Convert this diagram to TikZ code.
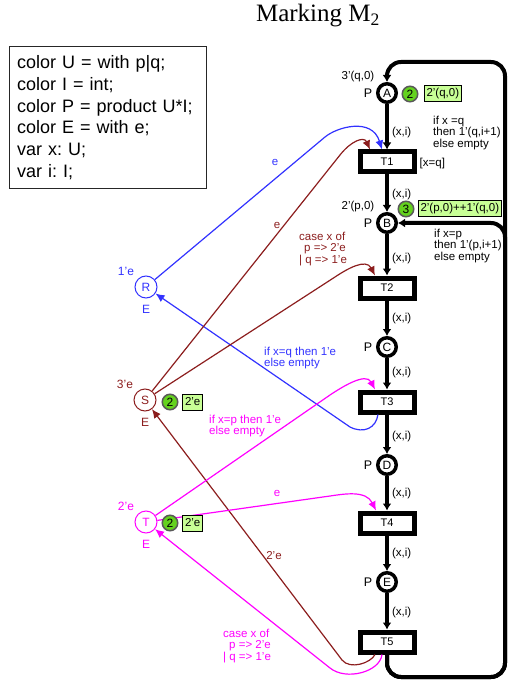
\documentclass[tikz,border=0pt]{standalone}
\usepackage{fontspec}
\setmainfont{Liberation Sans}
\newfontfamily\titlefont{Liberation Serif}
\usetikzlibrary{arrows.meta}
\frenchspacing

\definecolor{cpnblue}{RGB}{50,50,255}
\definecolor{cpnred}{RGB}{140,30,30}
\definecolor{cpnmag}{RGB}{255,0,255}
\definecolor{tokgreen}{RGB}{100,210,30}
\definecolor{tokfill}{RGB}{200,255,150}

\begin{document}
\begin{tikzpicture}[x=1pt, y=1pt,
    lbl/.style={font=\fontsize{11.5}{11.8}\selectfont, inner sep=0pt, align=left},
    plbl/.style={font=\fontsize{12.5}{12.5}\selectfont, inner sep=0pt, label distance=3.5pt},
    sidelbl/.style={font=\fontsize{12}{12}\selectfont, inner sep=0pt, label distance=7pt},
    place/.style={circle, draw, fill=white, line width=3.5pt, minimum size=18.5pt, inner sep=0pt,
      font=\fontsize{12}{12}\selectfont, label={[plbl]left:P}},
    side/.style={circle, draw, fill=white, line width=1pt, minimum size=22pt, inner sep=0pt,
      font=\fontsize{12}{12}\selectfont},
    trans/.style={rectangle, draw, fill=white, line width=5pt, minimum width=54pt,
      minimum height=20pt, inner sep=0pt, font=\fontsize{11}{11}\selectfont},
    arc/.style={line width=4pt, -{Latex[length=7pt,width=9pt]}},
    thinarc/.style={line width=1.2pt, -{Latex[length=9pt,width=8pt]}},
    xil/.style={lbl, anchor=west, xshift=3pt, yshift=17pt},
    tok/.style={circle, draw=black!65, line width=1.5pt, fill=tokgreen, minimum size=15.5pt,
      inner sep=0pt, font=\fontsize{12}{12}\selectfont},
    mrk/.style={lbl, draw, line width=1pt, fill=tokfill, inner xsep=2.5pt, minimum height=16pt}]

  \useasboundingbox (0,0) rectangle (508,-684);

  % Title and declarations
  \node[font=\titlefont\fontsize{25}{25}\selectfont, anchor=base] (title) at (318,-22) {Marking M\textsubscript{2}};
  \node[draw=black!85, line width=1.2pt, anchor=north west, minimum height=142pt, text width=182pt,
    inner xsep=7.5pt, inner ysep=0pt, align=left, font=\fontsize{18}{21.7}\selectfont] (decl) at (9,-46)
    {color U = with p|q;\\ color I = int;\\ color P = product U*I;\\ color E = with e;\\ var x: U;\\ var i: I;};

  % Main chain
  \node[place] (A) at (387,-93) {A};
  \node[trans] (T1) at (387,-162) {T1};
  \node[place] (B) at (387,-223) {B};
  \node[trans] (T2) at (387,-288) {T2};
  \node[place] (C) at (387,-347) {C};
  \node[trans] (T3) at (387,-402) {T3};
  \node[place] (D) at (387,-465) {D};
  \node[trans] (T4) at (387,-523) {T4};
  \node[place] (E) at (387,-582) {E};
  \node[trans] (T5) at (387,-642) {T5};

  % Resource places
  \node[side, draw=cpnblue, text=cpnblue, label={[sidelbl, cpnblue]below:E}] (R) at (146,-287) {R};
  \node[side, draw=cpnred, text=cpnred, label={[sidelbl, cpnred]below:E}] (S) at (145,-400) {S};
  \node[side, draw=cpnmag, text=cpnmag, label={[sidelbl, cpnmag]below:E}] (T) at (146,-522) {T};

  % Initial markings
  \node[lbl] (initA) at ([shift={(-29,16)}]A) {3'(q,0)};
  \node[lbl] (initB) at ([shift={(-29,16)}]B) {2'(p,0)};
  \node[lbl, font=\fontsize{12}{12}\selectfont, cpnblue] (initR) at ([shift={(-20,16)}]R) {1'e};
  \node[lbl, font=\fontsize{12}{12}\selectfont, cpnred] (initS) at ([shift={(-20,16)}]S) {3'e};
  \node[lbl, font=\fontsize{12}{12}\selectfont, cpnmag] (initT) at ([shift={(-20,16)}]T) {2'e};

  % Chain arcs
  \draw[arc] (A) -- (T1) node[xil, at end] {(x,i)};
  \draw[arc] (T1) -- (B) node[xil, at end] {(x,i)};
  \draw[arc] (B) -- (T2) node[xil, at end] {(x,i)};
  \draw[arc] (T2) -- (C) node[xil, at end] {(x,i)};
  \draw[arc] (C) -- (T3) node[xil, at end] {(x,i)};
  \draw[arc] (T3) -- (D) node[xil, at end] {(x,i)};
  \draw[arc] (D) -- (T4) node[xil, at end] {(x,i)};
  \draw[arc] (T4) -- (E) node[xil, at end] {(x,i)};
  \draw[arc] (E) -- (T5) node[xil, at end] {(x,i)};
  \node[lbl, anchor=west] (guard) at ([xshift=3pt, yshift=-2pt]T1.east) {[x=q]};

  % Loops back from T5
  \coordinate (cornerBR) at (505,-677);
  \coordinate (cornerTR) at (505,-62);
  \draw[arc, rounded corners=14pt] (T5) -- (T5 |- cornerBR) -- (cornerBR) -- (cornerTR) -- (A |- cornerTR) -- (A);
  \draw[arc, rounded corners=14pt] (T5) -- (T5 |- cornerBR) -- (cornerBR) -- (cornerBR |- B) -- (B);
  \node[lbl, anchor=north west] (condA) at (433,-115.5) {if x =q\\then 1'(q,i+1)\\else empty};
  \node[lbl, anchor=north west] (condB) at (434,-228.5) {if x=p\\then 1'(p,i+1)\\else empty};

  % Blue arcs
  \draw[thinarc, cpnblue] (R) -- (325,-137) .. controls (337,-127) and (372,-117) .. ([xshift=-5pt]T1.north);
  \draw[thinarc, cpnblue] ([xshift=-9pt]T3.south) .. controls (376,-428) and (364,-434) .. (350,-427) -- (R);
  \node[lbl, cpnblue] (eR) at (275,-162) {e};
  \node[lbl, cpnblue, anchor=north west] (condR) at (264,-346.5) {if x=q then 1'e\\else empty};

  % Red arcs
  \draw[thinarc, cpnred] (S) -- (340,-155) .. controls (351,-141) and (364,-136) .. ([xshift=-17pt]T1.north);
  \draw[thinarc, cpnred] (S) -- (335,-277) .. controls (347,-269) and (366,-258) .. ([xshift=-12pt]T2.north);
  \draw[thinarc, cpnred] ([xshift=-12pt]T5.south) .. controls (371,-663) and (350,-670) .. (342,-660) -- (S);
  \node[lbl, cpnred] (eS) at (277,-225) {e};
  \node[lbl, cpnred, anchor=north west] (caseS) at (299,-231.5) {case x of\\\hspace*{5pt}p => 2'e\\| q => 1'e};
  \node[lbl, cpnred] (backS) at (274,-556) {2'e};

  % Magenta arcs
  \draw[thinarc, cpnmag] (T) -- (330,-395) .. controls (342,-387) and (366,-372) .. ([xshift=-12pt]T3.north);
  \draw[thinarc, cpnmag] (T) -- (330,-496) .. controls (344,-494) and (366,-490) .. ([xshift=-11pt]T4.north);
  \draw[thinarc, cpnmag] ([xshift=-5pt]T5.south) .. controls (380,-672) and (346,-681) .. (330,-668) -- (T);
  \node[lbl, cpnmag, anchor=north west] (condT) at (209,-414.5) {if x=p then 1'e\\else empty};
  \node[lbl, cpnmag] (eT) at (277,-493) {e};
  \node[lbl, cpnmag, anchor=north west] (caseT) at (223,-628.5) {case x of\\\hspace*{6pt}p => 2'e\\| q => 1'e};

  % Current marking tokens
  \node[tok] (tokA) at ([xshift=23pt, yshift=-1pt]A) {2};
  \node[mrk, anchor=west] (mkA) at ([xshift=5pt]tokA.east) {2'(q,0)};
  \node[tok] (tokB) at ([xshift=19pt, yshift=14pt]B) {3};
  \node[mrk, anchor=west] (mkB) at ([xshift=3pt]tokB.east) {2'(p,0)++1'(q,0)};
  \node[tok] (tokS) at ([xshift=25pt, yshift=-2pt]S) {2};
  \node[mrk, anchor=west] (mkS) at ([xshift=3.5pt]tokS.east) {2'e};
  \node[tok] (tokT) at ([xshift=24pt, yshift=-1pt]T) {2};
  \node[mrk, anchor=west] (mkT) at ([xshift=3.5pt]tokT.east) {2'e};
\end{tikzpicture}
\end{document}
